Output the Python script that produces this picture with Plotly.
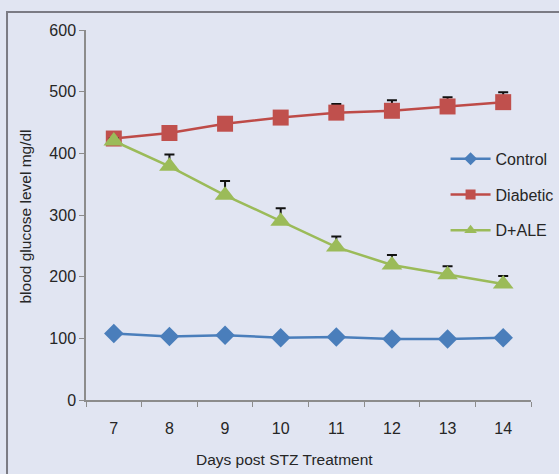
import plotly.graph_objects as go

days = ["7", "8", "9", "10", "11", "12", "13", "14"]
control = [108, 103, 105, 101, 102, 99, 99, 101]
diabetic = [424, 433, 448, 458, 466, 469, 476, 483]
diabetic_err = [4, 5, 7, 9, 14, 17, 15, 16]
dale = [420, 379, 332, 290, 248, 219, 203, 188]
dale_err = [4, 19, 23, 21, 17, 16, 14, 13]

font_family = "Liberation Sans, Arial, sans-serif"
txt = "#262626"

series = [
    ("Control", control, None, "#4a7ebb", "#4a7ebb", "diamond", 15, 10),
    ("Diabetic", diabetic, diabetic_err, "#be4b48", "#c0504d", "square", 16, 10),
    ("D+ALE", dale, dale_err, "#9bbb59", "#9bbb59", "triangle-up", 18, 11),
]

fig = go.Figure()
for i, (name, vals, err, lc, mc, sym, msize, lsize) in enumerate(series):
    kw = {}
    if err is not None:
        kw["error_y"] = dict(type="data", array=err, arrayminus=[0] * len(err), symmetric=False,
                             color="#111111", thickness=2, width=5)
    fig.add_trace(go.Scatter(
        x=days, y=vals, name=name, mode="lines+markers", showlegend=False,
        line=dict(color=lc, width=2.5),
        marker=dict(symbol=sym, size=msize, color=mc), **kw,
    ))
    # legend entry with smaller marker, as in the original
    fig.add_trace(go.Scatter(
        x=[None], y=[None], name=name, mode="lines+markers", legendgroup=f"g{i}",
        line=dict(color=lc, width=2.5),
        marker=dict(symbol=sym, size=lsize, color=mc),
    ))

fig.update_layout(
    width=559, height=474,
    margin=dict(l=86, r=28, t=30, b=74, autoexpand=False),
    paper_bgcolor="#e1e5f2", plot_bgcolor="#e1e5f2",
    font=dict(family=font_family, size=16, color=txt),
    showlegend=True,
    legend=dict(x=0.808, y=0.698, xanchor="left", yanchor="top", bgcolor="rgba(0,0,0,0)",
                font=dict(size=16, color=txt), tracegroupgap=12, traceorder="grouped",
                itemwidth=40),
    xaxis=dict(type="category", range=[-0.5, 7.5], tickson="boundaries", ticks="outside", ticklen=5,
               tickcolor="#8c8c8c", showline=True, linecolor="#8c8c8c", linewidth=1.5,
               showgrid=False, zeroline=False, ticklabelstandoff=13,
               tickfont=dict(size=16, color=txt)),
    yaxis=dict(range=[0, 600], tickvals=[0, 100, 200, 300, 400, 500, 600], ticks="outside",
               ticklen=5, tickcolor="#8c8c8c", showline=True, linecolor="#8c8c8c",
               linewidth=1.5, showgrid=False, zeroline=False,
               tickfont=dict(size=16, color=txt)),
    annotations=[
        dict(text="Days post STZ Treatment", xref="paper", yref="paper", x=0.447, y=-0.162,
             xanchor="center", yanchor="middle", showarrow=False, font=dict(size=15.5, color=txt)),
        dict(text="blood glucose level mg/dl", xref="paper", yref="paper", x=-0.137, y=0.496,
             xanchor="center", yanchor="middle", textangle=-90, showarrow=False,
             font=dict(size=15.5, color=txt)),
    ],
    shapes=[dict(type="rect", xref="paper", yref="paper", x0=-0.1775, x1=1.3, y0=-0.5, y1=1.0489,
                 line=dict(color="#7b7b84", width=2), fillcolor="rgba(0,0,0,0)", layer="below")],
)

fig.write_html("out.html", config={"displayModeBar": False},
               post_script="document.body.style.margin='0';document.body.style.background='#e1e5f2';")
